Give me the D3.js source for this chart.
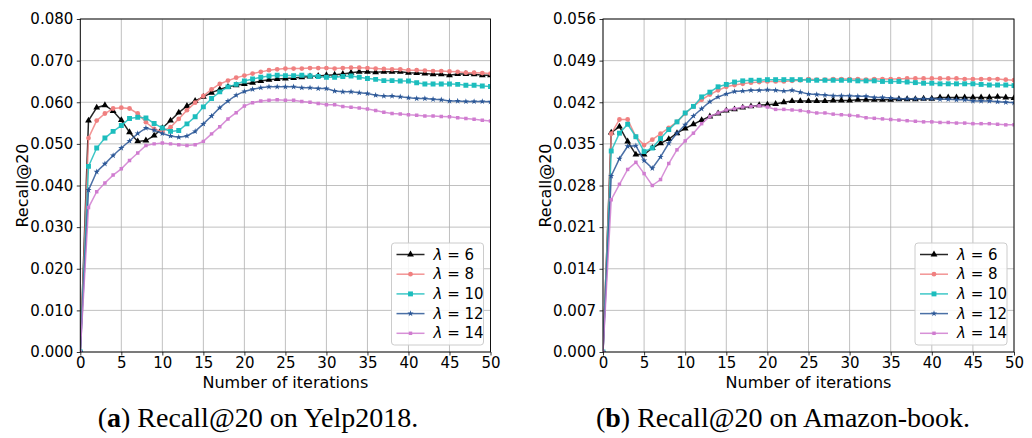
<!DOCTYPE html>
<html>
<head>
<meta charset="utf-8">
<script src="https://cdn.jsdelivr.net/npm/d3@7"></script>
<style>
  body { margin: 0; background: #fff; }
  text { fill: #000; }
</style>
</head>
<body>
<div id="chart"></div>
<script>
// iterations 0..50
var iterations = d3.range(0, 51);

// Recall@20 on Yelp2018, one array per lambda
var yelp6 = [0, 0.0556, 0.0587, 0.0593, 0.0579, 0.0557, 0.0528, 0.0506, 0.0508, 0.0520, 0.0538, 0.0556, 0.0575, 0.0591, 0.0603, 0.0613, 0.0623, 0.0631, 0.0637, 0.0641, 0.0644, 0.0647, 0.0651, 0.0654, 0.0656, 0.0657, 0.0658, 0.0660, 0.0662, 0.0663, 0.0665, 0.0666, 0.0668, 0.0671, 0.0673, 0.0673, 0.0672, 0.0673, 0.0673, 0.0673, 0.0671, 0.0670, 0.0669, 0.0667, 0.0667, 0.0665, 0.0668, 0.0668, 0.0667, 0.0665, 0.0665];
var yelp8 = [0, 0.0514, 0.0556, 0.0573, 0.0585, 0.0587, 0.0585, 0.0573, 0.0552, 0.0536, 0.0530, 0.0540, 0.0560, 0.0581, 0.0599, 0.0615, 0.0631, 0.0644, 0.0652, 0.0659, 0.0664, 0.0669, 0.0673, 0.0677, 0.0679, 0.0681, 0.0681, 0.0681, 0.0682, 0.0682, 0.0682, 0.0681, 0.0682, 0.0683, 0.0683, 0.0682, 0.0681, 0.0680, 0.0679, 0.0679, 0.0677, 0.0677, 0.0676, 0.0675, 0.0675, 0.0674, 0.0673, 0.0671, 0.0671, 0.0670, 0.0669];
var yelp10 = [0, 0.0446, 0.0490, 0.0514, 0.0530, 0.0544, 0.0561, 0.0564, 0.0562, 0.0549, 0.0538, 0.0530, 0.0532, 0.0548, 0.0565, 0.0589, 0.0609, 0.0625, 0.0637, 0.0643, 0.0651, 0.0656, 0.0660, 0.0663, 0.0665, 0.0664, 0.0664, 0.0665, 0.0663, 0.0662, 0.0660, 0.0660, 0.0662, 0.0663, 0.0660, 0.0657, 0.0655, 0.0652, 0.0652, 0.0651, 0.0651, 0.0647, 0.0644, 0.0644, 0.0644, 0.0644, 0.0643, 0.0641, 0.0641, 0.0639, 0.0638];
var yelp12 = [0, 0.0389, 0.0433, 0.0452, 0.0472, 0.0490, 0.0507, 0.0525, 0.0538, 0.0533, 0.0525, 0.0519, 0.0516, 0.0519, 0.0530, 0.0548, 0.0567, 0.0587, 0.0603, 0.0617, 0.0626, 0.0631, 0.0635, 0.0637, 0.0637, 0.0637, 0.0637, 0.0635, 0.0635, 0.0633, 0.0633, 0.0627, 0.0625, 0.0625, 0.0623, 0.0621, 0.0617, 0.0615, 0.0615, 0.0613, 0.0611, 0.0609, 0.0609, 0.0607, 0.0606, 0.0603, 0.0603, 0.0602, 0.0602, 0.0602, 0.0601];
var yelp14 = [0, 0.0347, 0.0385, 0.0406, 0.0425, 0.0440, 0.0460, 0.0478, 0.0496, 0.0500, 0.0502, 0.0500, 0.0498, 0.0496, 0.0498, 0.0506, 0.0524, 0.0541, 0.0560, 0.0575, 0.0591, 0.0599, 0.0603, 0.0605, 0.0606, 0.0605, 0.0605, 0.0602, 0.0600, 0.0597, 0.0594, 0.0594, 0.0590, 0.0588, 0.0586, 0.0584, 0.0580, 0.0576, 0.0573, 0.0572, 0.0570, 0.0569, 0.0567, 0.0567, 0.0566, 0.0565, 0.0563, 0.0561, 0.0559, 0.0557, 0.0555];

// Recall@20 on Amazon-book
var amz6 = [0, 0.0369, 0.0379, 0.0354, 0.0332, 0.0332, 0.0343, 0.0351, 0.0358, 0.0368, 0.0376, 0.0383, 0.0390, 0.0396, 0.0401, 0.0406, 0.0408, 0.0411, 0.0413, 0.0415, 0.0416, 0.0417, 0.0420, 0.0422, 0.0422, 0.0422, 0.0422, 0.0422, 0.0423, 0.0423, 0.0423, 0.0424, 0.0424, 0.0424, 0.0424, 0.0424, 0.0425, 0.0425, 0.0425, 0.0426, 0.0426, 0.0428, 0.0428, 0.0428, 0.0428, 0.0428, 0.0428, 0.0428, 0.0429, 0.0428, 0.0427];
var amz8 = [0, 0.0367, 0.0391, 0.0391, 0.0362, 0.0348, 0.0357, 0.0367, 0.0377, 0.0387, 0.0401, 0.0413, 0.0424, 0.0433, 0.0440, 0.0446, 0.0449, 0.0451, 0.0453, 0.0454, 0.0455, 0.0455, 0.0455, 0.0456, 0.0457, 0.0459, 0.0458, 0.0458, 0.0459, 0.0459, 0.0459, 0.0459, 0.0458, 0.0459, 0.0459, 0.0459, 0.0459, 0.0460, 0.0460, 0.0460, 0.0460, 0.0460, 0.0460, 0.0460, 0.0459, 0.0459, 0.0459, 0.0459, 0.0459, 0.0458, 0.0457];
var amz10 = [0, 0.0338, 0.0368, 0.0383, 0.0362, 0.0337, 0.0343, 0.0359, 0.0374, 0.0387, 0.0402, 0.0413, 0.0429, 0.0437, 0.0446, 0.0450, 0.0454, 0.0456, 0.0457, 0.0457, 0.0458, 0.0458, 0.0458, 0.0458, 0.0458, 0.0457, 0.0457, 0.0457, 0.0457, 0.0457, 0.0457, 0.0456, 0.0456, 0.0456, 0.0455, 0.0455, 0.0455, 0.0454, 0.0453, 0.0452, 0.0452, 0.0451, 0.0451, 0.0451, 0.0451, 0.0451, 0.0450, 0.0449, 0.0449, 0.0449, 0.0448];
var amz12 = [0, 0.0296, 0.0325, 0.0346, 0.0347, 0.0322, 0.0309, 0.0328, 0.0351, 0.0368, 0.0382, 0.0397, 0.0409, 0.0421, 0.0429, 0.0434, 0.0438, 0.0439, 0.0440, 0.0440, 0.0441, 0.0440, 0.0439, 0.0440, 0.0437, 0.0434, 0.0433, 0.0432, 0.0431, 0.0431, 0.0431, 0.0430, 0.0430, 0.0428, 0.0428, 0.0427, 0.0426, 0.0426, 0.0426, 0.0426, 0.0426, 0.0425, 0.0425, 0.0424, 0.0424, 0.0422, 0.0422, 0.0422, 0.0421, 0.0420, 0.0419];
var amz14 = [0, 0.0256, 0.0282, 0.0307, 0.0319, 0.0300, 0.0280, 0.0290, 0.0317, 0.0340, 0.0355, 0.0368, 0.0384, 0.0396, 0.0402, 0.0407, 0.0409, 0.0412, 0.0413, 0.0414, 0.0412, 0.0408, 0.0408, 0.0407, 0.0406, 0.0404, 0.0402, 0.0402, 0.0400, 0.0399, 0.0398, 0.0397, 0.0394, 0.0393, 0.0392, 0.0391, 0.0390, 0.0389, 0.0388, 0.0387, 0.0387, 0.0386, 0.0386, 0.0385, 0.0385, 0.0384, 0.0384, 0.0384, 0.0383, 0.0382, 0.0382];

var lambdas = [6, 8, 10, 12, 14];
var xTicks = [0, 5, 10, 15, 20, 25, 30, 35, 40, 45, 50];
var yelpTicks = [0, 0.01, 0.02, 0.03, 0.04, 0.05, 0.06, 0.07, 0.08];
var amzTicks = [0, 0.007, 0.014, 0.021, 0.028, 0.035, 0.042, 0.049, 0.056];

var styles = [
  { color: "#000000", symbol: d3.symbolTriangle, size: 20 },
  { color: "#f08080", symbol: d3.symbolCircle, size: 18 },
  { color: "#1cbdbd", symbol: d3.symbolSquare, size: 24 },
  { color: "#2b5797", symbol: d3.symbolStar, size: 12 },
  { color: "#d07cd0", symbol: d3.symbolSquare, size: 12 }
];

var sans = "DejaVu Sans, sans-serif";

var svg = d3.select("#chart").append("svg")
  .attr("width", 1032).attr("height", 438);
svg.append("rect").attr("width", 1032).attr("height", 438).attr("fill", "#fff");

function drawPanel(p) {
  var g = svg.append("g");
  var x = d3.scaleLinear().domain([0, 50]).range([p.left, p.right]);
  var y = d3.scaleLinear().domain([0, p.yMax]).range([352, 19]);

  // grid
  g.selectAll(".gx").data(xTicks).enter().append("line")
    .attr("x1", d => x(d)).attr("x2", d => x(d))
    .attr("y1", 19).attr("y2", 352)
    .attr("stroke", "#b0b0b0").attr("stroke-width", 0.8);
  g.selectAll(".gy").data(p.ticks).enter().append("line")
    .attr("x1", p.left).attr("x2", p.right)
    .attr("y1", d => y(d)).attr("y2", d => y(d))
    .attr("stroke", "#b0b0b0").attr("stroke-width", 0.8);

  // axes
  var xa = g.append("g").attr("transform", "translate(0,352)")
    .call(d3.axisBottom(x).tickValues(xTicks).tickSize(3.5).tickPadding(2).tickFormat(d3.format("d")));
  var ya = g.append("g").attr("transform", "translate(" + p.left + ",0)")
    .call(d3.axisLeft(y).tickValues(p.ticks).tickSize(3.5).tickPadding(3.5).tickFormat(d3.format(".3f")));
  [xa, ya].forEach(function (a) {
    a.select(".domain").remove();
    a.selectAll("text").attr("font-size", 15).style("font-family", sans).attr("fill", "#000");
    a.selectAll("line").attr("stroke", "#000").attr("stroke-width", 0.8);
  });

  var clipId = "clip" + p.id;
  svg.append("clipPath").attr("id", clipId).append("rect")
    .attr("x", p.left).attr("y", 19).attr("width", p.right - p.left).attr("height", 333);

  var line = d3.line().x((d, i) => x(iterations[i])).y(d => y(d));
  var plot = g.append("g").attr("clip-path", "url(#" + clipId + ")");

  p.series.forEach(function (s, k) {
    var st = styles[k];
    plot.append("path").datum(s)
      .attr("d", line).attr("fill", "none")
      .attr("stroke", st.color).attr("stroke-width", 1.5).attr("stroke-opacity", 0.85);
    plot.selectAll(".m" + k).data(s).enter().append("path")
      .attr("d", d3.symbol().type(st.symbol).size(st.size))
      .attr("transform", (d, i) => "translate(" + x(iterations[i]) + "," + y(d) + ")")
      .attr("fill", st.color);
  });

  // frame
  g.append("rect").attr("x", p.left).attr("y", 19)
    .attr("width", p.right - p.left).attr("height", 333)
    .attr("fill", "none").attr("stroke", "#000").attr("stroke-width", 0.9);

  // labels
  g.append("text").attr("x", (p.left + p.right) / 2).attr("y", 387.5)
    .attr("text-anchor", "middle").attr("font-size", 16).style("font-family", sans)
    .text("Number of iterations");
  g.append("text").attr("transform", "translate(" + (p.left - 52) + "," + 185.5 + ") rotate(-90)")
    .attr("text-anchor", "middle").attr("font-size", 16).style("font-family", sans)
    .text("Recall@20");

  // legend
  var lx = p.right - 99, ly = 243;
  var leg = g.append("g");
  leg.append("rect").attr("x", lx).attr("y", ly).attr("width", 92).attr("height", 102)
    .attr("rx", 3).attr("fill", "#fff").attr("fill-opacity", 0.85)
    .attr("stroke", "#cccccc").attr("stroke-width", 1);
  lambdas.forEach(function (l, k) {
    var st = styles[k];
    var yy = ly + 11.5 + k * 19.7;
    leg.append("line").attr("x1", lx + 5).attr("x2", lx + 33).attr("y1", yy).attr("y2", yy)
      .attr("stroke", st.color).attr("stroke-width", 1.5).attr("stroke-opacity", 0.85);
    leg.append("path").attr("d", d3.symbol().type(st.symbol).size(st.size))
      .attr("transform", "translate(" + (lx + 19) + "," + yy + ")").attr("fill", st.color);
    var t = leg.append("text").attr("x", lx + 42).attr("y", yy + 5)
      .attr("font-size", 15).style("font-family", sans);
    t.append("tspan").attr("font-style", "italic").text("λ");
    t.append("tspan").text(" = " + l);
  });

  // caption
  var cap = svg.append("text").attr("x", p.capX).attr("y", 427).attr("text-anchor", "middle")
    .style("font-family", "'Liberation Serif', serif").attr("font-size", 28);
  cap.append("tspan").text("(");
  cap.append("tspan").attr("font-weight", "bold").text(p.capLetter);
  cap.append("tspan").text(") " + p.caption);
}

drawPanel({ id: "a", left: 80.3, right: 490.5, yMax: 0.08, ticks: yelpTicks,
  series: [yelp6, yelp8, yelp10, yelp12, yelp14],
  capX: 258, capLetter: "a", caption: "Recall@20 on Yelp2018." });
drawPanel({ id: "b", left: 603, right: 1014, yMax: 0.056, ticks: amzTicks,
  series: [amz6, amz8, amz10, amz12, amz14],
  capX: 783, capLetter: "b", caption: "Recall@20 on Amazon-book." });
</script>
</body>
</html>
